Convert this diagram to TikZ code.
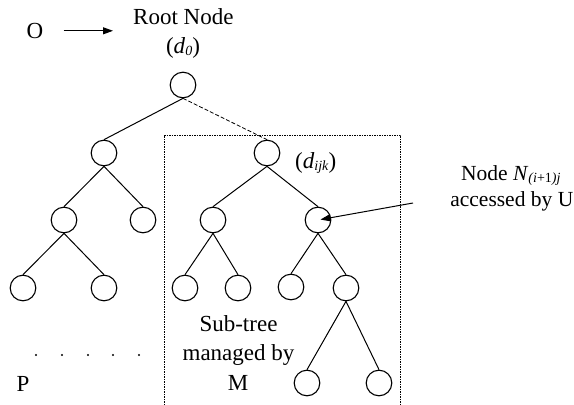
\documentclass[tikz,border=0pt]{standalone}
\usepackage{fontspec}
\setmainfont{Liberation Serif}
\usetikzlibrary{arrows.meta}
\newcommand{\lowsub}[1]{\raisebox{-2.5pt}{\fontsize{14}{14}\selectfont #1}}
\begin{document}
\begin{tikzpicture}[x=1pt,y=-1pt,
  tn/.style={circle,draw,line width=1.1pt,minimum size=25.6pt,inner sep=0pt},
  edge/.style={line width=1pt},
  lbl/.style={font=\fontsize{23}{29}\selectfont,inner sep=0pt,anchor=base},
  sidelbl/.style={lbl,font=\fontsize{21.5}{27}\selectfont},
  arr/.style={line width=1pt,-{Triangle[length=10pt,width=7pt]}},
  boxline/.style={line width=0.8pt,dash pattern=on 1.5pt off 1pt},
  dashedge/.style={line width=0.8pt,dash pattern=on 4pt off 2pt},
  dotmark/.style={circle,fill,inner sep=0pt,minimum size=2.4pt}]
\useasboundingbox (0,0) rectangle (574,405);
% labels
\node[lbl] (O) at (35,38.3) {O};
\node[lbl,anchor=base west] (rootlbl) at (133,24) {Root Node};
\node[lbl] (d0) at (183,53) {(\textit{d}\lowsub{\textit{0}})};
\node[lbl,anchor=base west] (dijk) at (295,168) {(\textit{d}\lowsub{\textit{ijk}})};
\node[sidelbl,anchor=base west] (nodeA) at (461,180) {Node \textit{N}\lowsub{\textit{(i}+1\textit{)j}}};
\node[sidelbl,anchor=base east] (nodeB) at (573.5,206.7) {accessed by U};
\node[lbl] (sub1) at (238.5,331.7) {Sub-tree};
\node[lbl] (sub2) at (238.5,360.7) {managed by};
\node[lbl] (sub3) at (238,390) {M};
\node[lbl] (P) at (23,391) {P};
\foreach \i/\x in {1/36,2/62,3/88,4/113,5/139}
  \node[dotmark] (dot\i) at (\x,355) {};
% tree nodes
\node[tn] (r) at (183,85) {};
\node[tn] (a) at (104,153) {};
\node[tn] (b) at (267,153) {};
\node[tn] (aa) at (64,220) {};
\node[tn] (ab) at (143,220) {};
\node[tn] (ba) at (213,220) {};
\node[tn] (bb) at (318,220) {};
\node[tn] (aaa) at (23,288) {};
\node[tn] (aab) at (104,288) {};
\node[tn] (baa) at (185,288) {};
\node[tn] (bab) at (238,288) {};
\node[tn] (bba) at (291,287) {};
\node[tn] (bbb) at (346,288) {};
\node[tn] (bbba) at (307,383) {};
\node[tn] (bbbb) at (379,383) {};
% edges
\draw[edge] (r.south) -- (a.north);
\draw[dashedge] (r.south) -- (b.north);
\draw[edge] (a.south) -- (aa.north);
\draw[edge] (a.south) -- (ab.north);
\draw[edge] (b.south) -- (ba.north);
\draw[edge] (b.south) -- (bb.north);
\draw[edge] (aa.south) -- (aaa.north);
\draw[edge] (aa.south) -- (aab.north);
\draw[edge] (ba.south) -- (baa.north);
\draw[edge] (ba.south) -- (bab.north);
\draw[edge] (bb.south) -- (bba.north);
\draw[edge] (bb.south) -- (bbb.north);
\draw[edge] (bbb.south) -- (bbba.north);
\draw[edge] (bbb.south) -- (bbbb.north);
% sub-tree box (open at the bottom)
\coordinate (boxbl) at (164,405);
\coordinate (boxtl) at (164,135);
\coordinate (boxtr) at (400.5,135);
\coordinate (boxbr) at (400.5,405);
\draw[boxline] (boxbl) -- (boxtl) -- (boxtr) -- (boxbr);
% arrows
\draw[arr,shorten <=20pt,shorten >=20pt] (O.east) -- (O.east -| rootlbl.west);
\coordinate (ustart) at (413,203);
\draw[arr,shorten >=2.5pt] (ustart) -- (bb.center);
\end{tikzpicture}
\end{document}
